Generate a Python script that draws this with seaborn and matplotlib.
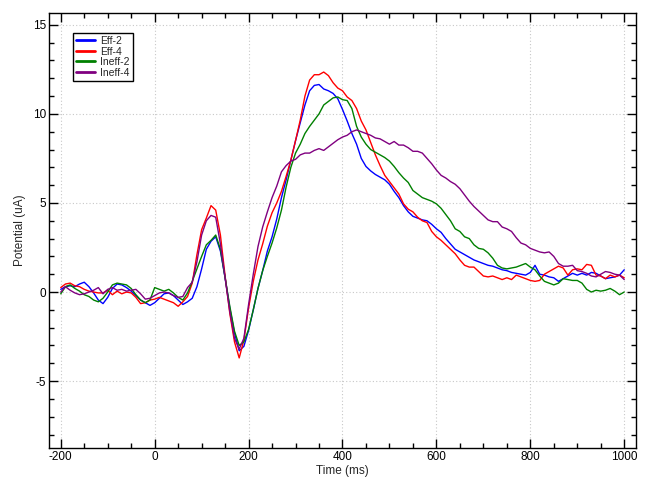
import numpy as np
import pandas as pd
import matplotlib
matplotlib.use('Agg')
import matplotlib.pyplot as plt
from matplotlib.ticker import MultipleLocator
import seaborn as sns

# eje de tiempo (ms), una muestra cada 10 ms
time_ms = np.arange(-200, 1001, 10)

eff_2 = [
    0.15, 0.3, 0.35, 0.3, 0.45, 0.55, 0.3, -0.05, -0.45, -0.65,
    -0.3, 0.2, 0.45, 0.4, 0.25, 0.05, -0.2, -0.45, -0.6, -0.75,
    -0.6, -0.35, -0.1, -0.05, -0.2, -0.45, -0.7, -0.55, -0.35, 0.3,
    1.3, 2.4, 2.85, 3.1, 2.3, 0.8, -0.9, -2.3, -3.3, -3.05,
    -2.15, -1.0, 0.2, 1.2, 2.3, 3.1, 4.1, 5.3, 6.3, 7.4,
    8.5, 9.5, 10.5, 11.3, 11.6, 11.65, 11.4, 11.3, 11.15, 10.85,
    10.25, 9.6, 8.9, 8.3, 7.5, 7.05, 6.8, 6.6, 6.45, 6.3,
    6.05, 5.65, 5.3, 4.85, 4.5, 4.25, 4.15, 4.05, 4.0, 3.8,
    3.55, 3.35, 3.0, 2.7, 2.4, 2.25, 2.1, 1.95, 1.8, 1.7,
    1.6, 1.5, 1.45, 1.35, 1.25, 1.2, 1.1, 1.05, 1.0, 0.95,
    1.1, 1.5, 1.0, 0.95, 0.85, 0.8, 0.6, 0.75, 0.9, 1.05,
    0.95, 1.05, 0.95, 1.1, 1.05, 0.9, 0.75, 0.8, 0.85, 0.95,
    1.25]

eff_4 = [
    0.25, 0.45, 0.5, 0.35, 0.3, 0.15, 0.05, 0.0, -0.05, -0.05,
    0.1, -0.15, 0.05, -0.1, 0.0, -0.05, -0.3, -0.65, -0.6, -0.45,
    -0.4, -0.3, -0.4, -0.5, -0.6, -0.8, -0.55, -0.25, 0.5, 2.1,
    3.5, 4.15, 4.85, 4.6, 3.2, 0.9, -1.2, -2.8, -3.7, -2.7,
    -0.9, 0.6, 1.8, 2.7, 3.7, 4.45, 5.0, 5.65, 6.5, 7.4,
    8.5, 9.65, 11.0, 11.9, 12.2, 12.2, 12.35, 12.15, 11.75, 11.45,
    11.3, 10.95, 10.75, 10.3, 9.6, 9.1, 8.4, 7.7, 7.1, 6.55,
    6.2, 5.85, 5.5, 4.95, 4.65, 4.5, 4.2, 4.0, 3.9, 3.4,
    3.1, 2.9, 2.65, 2.4, 2.15, 1.8, 1.5, 1.4, 1.4, 1.15,
    0.9, 0.85, 0.9, 0.8, 0.7, 0.8, 0.7, 0.95, 0.85, 0.75,
    0.65, 0.6, 0.65, 1.0, 1.15, 1.3, 1.45, 1.35, 0.95, 1.25,
    1.3, 1.25, 1.55, 1.5, 0.95, 0.9, 0.75, 0.95, 0.85, 0.95,
    0.8]

ineff_2 = [
    -0.1, 0.3, 0.4, 0.2, 0.05, -0.15, -0.25, -0.45, -0.55, -0.35,
    0.0, 0.4, 0.5, 0.45, 0.4, 0.2, -0.15, -0.45, -0.6, -0.45,
    0.25, 0.15, 0.05, 0.15, -0.05, -0.3, -0.45, -0.05, 0.6, 1.3,
    2.0, 2.65, 2.9, 3.2, 2.4, 0.8, -0.8, -2.2, -3.0, -2.8,
    -2.1, -1.0, 0.2, 1.2, 2.0, 2.75, 3.6, 4.6, 5.9, 7.0,
    7.8, 8.3, 8.9, 9.3, 9.65, 10.0, 10.5, 10.7, 10.9, 10.95,
    10.8, 10.75, 10.3, 9.3, 8.7, 8.3, 8.0, 7.85, 7.7, 7.55,
    7.35, 7.05, 6.7, 6.4, 6.15, 5.7, 5.5, 5.3, 5.2, 5.1,
    4.95, 4.7, 4.35, 4.0, 3.55, 3.4, 3.1, 3.0, 2.65, 2.45,
    2.4, 2.2, 1.9, 1.5, 1.35, 1.3, 1.35, 1.4, 1.5, 1.6,
    1.4, 1.25, 0.9, 0.6, 0.5, 0.4, 0.5, 0.75, 0.7, 0.65,
    0.65, 0.5, 0.15, 0.0, 0.1, 0.05, 0.1, 0.2, 0.05, -0.15,
    0.0]

ineff_4 = [
    0.0, 0.3, 0.1, -0.05, -0.15, -0.1, 0.0, 0.1, 0.25, -0.1,
    0.15, 0.25, 0.1, 0.15, 0.05, 0.1, 0.15, -0.1, -0.4, -0.35,
    -0.2, -0.05, 0.0, -0.05, -0.2, -0.3, -0.25, 0.25, 0.55, 1.7,
    3.2, 4.0, 4.3, 4.2, 2.7, 0.8, -1.1, -2.6, -3.2, -2.6,
    -0.7, 1.0, 2.55, 3.65, 4.5, 5.3, 5.95, 6.75, 7.1, 7.35,
    7.45, 7.7, 7.8, 7.8, 7.95, 8.05, 7.95, 8.15, 8.35, 8.55,
    8.7, 8.8, 9.0, 9.1, 9.0, 8.9, 8.8, 8.65, 8.6, 8.45,
    8.3, 8.45, 8.25, 8.25, 8.1, 7.9, 7.9, 7.8, 7.5, 7.2,
    6.85, 6.55, 6.4, 6.2, 6.05, 5.8, 5.45, 5.1, 4.8, 4.55,
    4.3, 4.05, 3.95, 3.95, 3.65, 3.55, 3.4, 3.05, 2.75, 2.65,
    2.45, 2.35, 2.25, 2.2, 2.25, 2.0, 1.6, 1.45, 1.45, 1.5,
    1.2, 1.15, 1.05, 0.9, 0.85, 1.0, 1.15, 1.1, 1.0, 0.95,
    0.7]

conditions = ['Eff-2', 'Eff-4', 'Ineff-2', 'Ineff-4']
colores = ['#0000ff', '#ff0000', '#008000', '#800080']
series = [eff_2, eff_4, ineff_2, ineff_4]

# tabla larga para seaborn
df = pd.concat([
    pd.DataFrame({'time': time_ms, 'potential': vals, 'cond': name})
    for name, vals in zip(conditions, series)
], ignore_index=True)

sns.set_style('ticks')
plt.rcParams['font.family'] = ['Liberation Sans', 'DejaVu Sans']
plt.rcParams['axes.unicode_minus'] = False

fig = plt.figure(figsize=(6.45, 4.78), dpi=100)
ax = fig.add_axes([0.076, 0.063, 0.910, 0.910])

sns.lineplot(data=df, x='time', y='potential', hue='cond', hue_order=conditions,
             palette=colores, estimator=None, linewidth=1.0, ax=ax)

ax.set_xlim(-225, 1025)
ax.set_ylim(-8.75, 15.67)
ax.xaxis.set_major_locator(MultipleLocator(200))
ax.xaxis.set_minor_locator(MultipleLocator(50))
ax.yaxis.set_major_locator(MultipleLocator(5))
ax.yaxis.set_minor_locator(MultipleLocator(1))

ax.tick_params(which='both', direction='in', top=True, right=True,
               labelsize=8.5, colors='black', width=1.0)
ax.tick_params(which='major', length=6.5, pad=2)
ax.tick_params(which='minor', length=3.5)
for s in ax.spines.values():
    s.set_linewidth(1.0)
    s.set_color('black')

ax.grid(True, which='major', color='#c8c8c8', linestyle=(0, (1, 2)), linewidth=0.8)
ax.set_axisbelow(True)

ax.set_xlabel('Time (ms)', fontsize=8.5, labelpad=2)
ax.set_ylabel('Potential (uA)', fontsize=8.5, labelpad=5)

handles, labels = ax.get_legend_handles_labels()
leg = ax.legend(handles, labels, loc='upper left', bbox_to_anchor=(0.041, 0.954),
                borderaxespad=0, fontsize=7.5, frameon=True, fancybox=False,
                edgecolor='black', framealpha=1, borderpad=0.3, handlelength=1.8,
                handletextpad=0.5, labelspacing=0.05)
leg.get_frame().set_linewidth(1.0)
for line in leg.get_lines():
    line.set_linewidth(2.0)

plt.savefig('out.png', dpi=100)
